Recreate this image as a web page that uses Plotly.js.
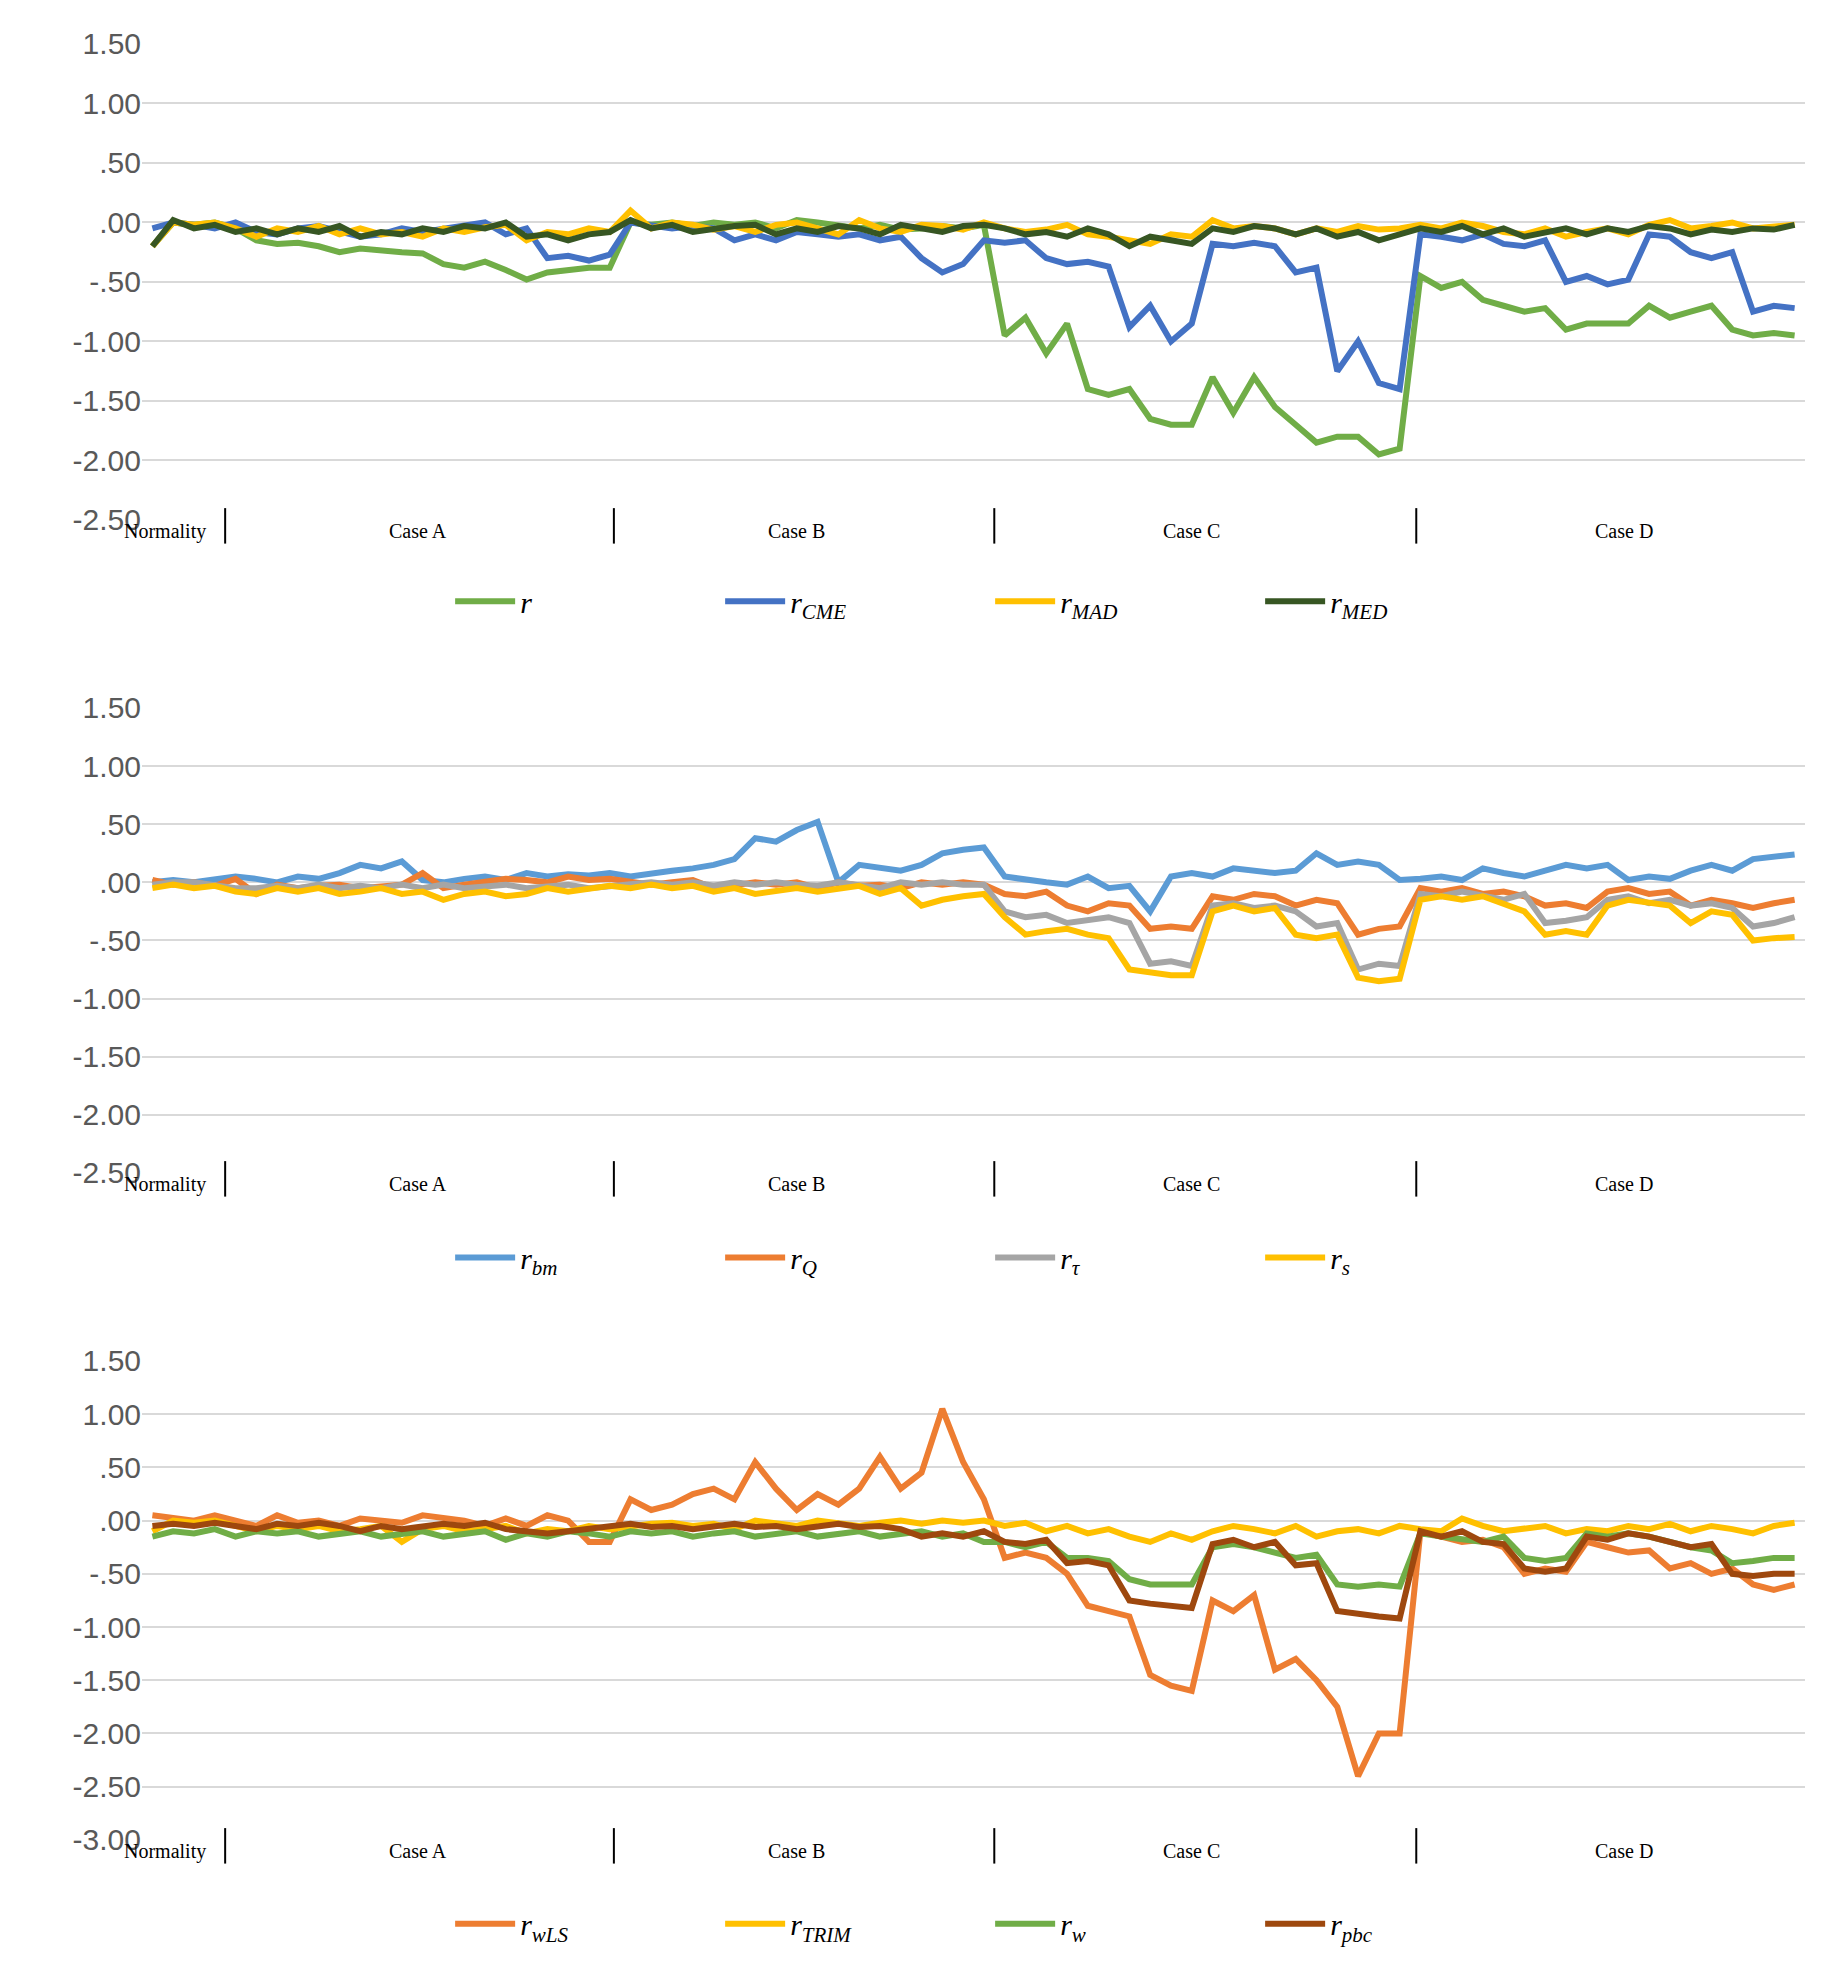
<!DOCTYPE html>
<html>
<head>
<meta charset="utf-8">
<script src="https://cdn.plot.ly/plotly-3.0.1.min.js"></script>
<style>body{margin:0;background:#fff}#chart{width:1847px;height:1971px}</style>
</head>
<body>
<div id="chart"></div>
<script>
// ---- data (one value per observation, 80 observations) ----
var r = [-0.2,0,-0.02,0,-0.05,-0.15,-0.18,-0.17,-0.2,-0.25,
  -0.22,-0.24,-0.25,-0.26,-0.35,-0.38,-0.33,-0.4,-0.48,-0.42,
  -0.4,-0.38,-0.38,0,-0.02,0,-0.03,0,-0.02,0,
  -0.05,0.02,0,-0.03,-0.05,-0.02,-0.06,-0.05,-0.03,-0.05,
  -0.02,-0.95,-0.8,-1.1,-0.85,-1.4,-1.45,-1.4,-1.65,-1.7,
  -1.7,-1.3,-1.6,-1.3,-1.55,-1.7,-1.85,-1.8,-1.8,-1.95,
  -1.9,-0.45,-0.55,-0.5,-0.65,-0.7,-0.75,-0.72,-0.9,-0.85,
  -0.85,-0.85,-0.7,-0.8,-0.75,-0.7,-0.9,-0.95,-0.93,-0.95];
var rCME = [-0.05,0,-0.02,-0.05,0,-0.08,-0.1,-0.05,-0.03,-0.08,
  -0.12,-0.1,-0.05,-0.08,-0.05,-0.02,0,-0.1,-0.05,-0.3,
  -0.28,-0.32,-0.27,0,-0.02,-0.05,-0.03,-0.05,-0.15,-0.1,
  -0.15,-0.08,-0.1,-0.12,-0.1,-0.15,-0.12,-0.3,-0.42,-0.35,
  -0.15,-0.17,-0.15,-0.3,-0.35,-0.33,-0.37,-0.88,-0.7,-1.0,
  -0.85,-0.18,-0.2,-0.17,-0.2,-0.42,-0.38,-1.25,-1.0,-1.35,
  -1.4,-0.1,-0.12,-0.15,-0.1,-0.18,-0.2,-0.15,-0.5,-0.45,
  -0.52,-0.48,-0.1,-0.12,-0.25,-0.3,-0.25,-0.75,-0.7,-0.72];
var rMAD = [-0.2,0,-0.02,0,-0.05,-0.12,-0.05,-0.08,-0.03,-0.1,
  -0.05,-0.1,-0.08,-0.12,-0.05,-0.08,-0.04,-0.02,-0.15,-0.08,
  -0.1,-0.05,-0.08,0.1,-0.05,0,-0.02,-0.06,-0.03,-0.08,
  -0.02,0,-0.05,-0.1,0.02,-0.05,-0.08,-0.02,-0.03,-0.06,
  0,-0.05,-0.08,-0.06,-0.02,-0.1,-0.12,-0.15,-0.18,-0.1,
  -0.12,0.02,-0.05,-0.03,-0.05,-0.1,-0.05,-0.08,-0.03,-0.06,
  -0.05,-0.02,-0.05,0,-0.03,-0.08,-0.1,-0.05,-0.12,-0.08,
  -0.05,-0.1,-0.02,0.02,-0.05,-0.03,0,-0.05,-0.03,-0.02];
var rMED = [-0.2,0.02,-0.05,-0.02,-0.08,-0.05,-0.1,-0.05,-0.08,-0.03,
  -0.12,-0.08,-0.1,-0.05,-0.08,-0.03,-0.05,0,-0.12,-0.1,
  -0.15,-0.1,-0.08,0.02,-0.05,-0.02,-0.08,-0.05,-0.03,-0.02,
  -0.1,-0.05,-0.08,-0.03,-0.05,-0.1,-0.02,-0.05,-0.08,-0.03,
  -0.02,-0.05,-0.1,-0.08,-0.12,-0.05,-0.1,-0.2,-0.12,-0.15,
  -0.18,-0.05,-0.08,-0.03,-0.05,-0.1,-0.05,-0.12,-0.08,-0.15,
  -0.1,-0.05,-0.08,-0.03,-0.1,-0.05,-0.12,-0.08,-0.05,-0.1,
  -0.05,-0.08,-0.03,-0.05,-0.1,-0.06,-0.08,-0.05,-0.06,-0.02];

var rBM = [0,0.02,0,0.03,0.05,0.03,0,0.05,0.03,0.08,
  0.15,0.12,0.18,0.02,0,0.03,0.05,0.02,0.08,0.05,
  0.07,0.06,0.08,0.05,0.08,0.1,0.12,0.15,0.2,0.38,
  0.35,0.45,0.52,0,0.15,0.12,0.1,0.15,0.25,0.28,
  0.3,0.05,0.02,0,-0.02,0.05,-0.05,-0.03,-0.25,0.05,
  0.08,0.05,0.12,0.1,0.08,0.1,0.25,0.15,0.18,0.15,
  0.02,0.03,0.05,0.02,0.12,0.08,0.05,0.1,0.15,0.12,
  0.15,0.02,0.05,0.03,0.1,0.15,0.1,0.2,0.22,0.24];
var rQ = [0.02,-0.02,0,-0.03,0.03,-0.1,-0.02,-0.05,-0.03,-0.02,
  -0.05,-0.03,-0.02,0.08,-0.05,-0.02,0,0.03,0.02,0,
  0.05,0.02,0.03,0,-0.02,0,0.02,-0.05,-0.03,0,
  -0.02,0,-0.05,0,-0.03,-0.02,-0.05,0,-0.02,0,
  -0.02,-0.1,-0.12,-0.08,-0.2,-0.25,-0.18,-0.2,-0.4,-0.38,
  -0.4,-0.12,-0.15,-0.1,-0.12,-0.2,-0.15,-0.18,-0.45,-0.4,
  -0.38,-0.05,-0.08,-0.05,-0.1,-0.08,-0.12,-0.2,-0.18,-0.22,
  -0.08,-0.05,-0.1,-0.08,-0.2,-0.15,-0.18,-0.22,-0.18,-0.15];
var rTau = [-0.02,0,0,-0.02,-0.05,-0.05,-0.03,-0.05,-0.02,-0.05,
  -0.03,-0.05,-0.02,-0.05,-0.02,-0.05,-0.03,-0.02,-0.05,-0.03,
  -0.02,-0.05,-0.03,-0.02,0,-0.02,0,-0.03,0,-0.02,
  0,-0.02,-0.03,0,-0.02,-0.05,0,-0.02,0,-0.02,
  -0.02,-0.25,-0.3,-0.28,-0.35,-0.32,-0.3,-0.35,-0.7,-0.68,
  -0.72,-0.2,-0.18,-0.22,-0.2,-0.25,-0.38,-0.35,-0.75,-0.7,
  -0.72,-0.1,-0.12,-0.08,-0.12,-0.15,-0.1,-0.35,-0.33,-0.3,
  -0.15,-0.12,-0.18,-0.15,-0.2,-0.18,-0.22,-0.38,-0.35,-0.3];
var rS = [-0.05,-0.02,-0.05,-0.03,-0.08,-0.1,-0.05,-0.08,-0.05,-0.1,
  -0.08,-0.05,-0.1,-0.08,-0.15,-0.1,-0.08,-0.12,-0.1,-0.05,
  -0.08,-0.05,-0.03,-0.05,-0.02,-0.05,-0.03,-0.08,-0.05,-0.1,
  -0.08,-0.05,-0.08,-0.05,-0.03,-0.1,-0.05,-0.2,-0.15,-0.12,
  -0.1,-0.3,-0.45,-0.42,-0.4,-0.45,-0.48,-0.75,-0.78,-0.8,
  -0.8,-0.25,-0.2,-0.25,-0.22,-0.45,-0.48,-0.45,-0.82,-0.85,
  -0.83,-0.15,-0.12,-0.15,-0.12,-0.18,-0.25,-0.45,-0.42,-0.45,
  -0.2,-0.15,-0.18,-0.2,-0.35,-0.25,-0.28,-0.5,-0.48,-0.47];

var rWLS = [0.05,0.03,0,0.05,0,-0.05,0.05,-0.02,0,-0.05,
  0.02,0,-0.02,0.05,0.03,0,-0.05,0.02,-0.05,0.05,
  0,-0.2,-0.2,0.2,0.1,0.15,0.25,0.3,0.2,0.55,
  0.3,0.1,0.25,0.15,0.3,0.6,0.3,0.45,1.05,0.55,
  0.2,-0.35,-0.3,-0.35,-0.5,-0.8,-0.85,-0.9,-1.45,-1.55,
  -1.6,-0.75,-0.85,-0.7,-1.4,-1.3,-1.5,-1.75,-2.4,-2.0,
  -2.0,-0.1,-0.15,-0.2,-0.18,-0.25,-0.5,-0.45,-0.48,-0.2,
  -0.25,-0.3,-0.28,-0.45,-0.4,-0.5,-0.45,-0.6,-0.65,-0.6];
var rTRIM = [-0.1,0,-0.02,0,-0.05,-0.1,-0.05,-0.08,-0.05,-0.1,
  -0.08,-0.05,-0.2,-0.08,-0.05,-0.1,-0.08,-0.05,-0.12,-0.08,
  -0.1,-0.05,-0.08,-0.05,-0.03,-0.02,-0.05,-0.03,-0.08,0,
  -0.02,-0.05,0,-0.03,-0.05,-0.02,0,-0.03,0,-0.02,
  0,-0.05,-0.02,-0.1,-0.05,-0.12,-0.08,-0.15,-0.2,-0.12,
  -0.18,-0.1,-0.05,-0.08,-0.12,-0.05,-0.15,-0.1,-0.08,-0.12,
  -0.05,-0.08,-0.1,0.02,-0.05,-0.1,-0.08,-0.05,-0.12,-0.08,
  -0.1,-0.05,-0.08,-0.03,-0.1,-0.05,-0.08,-0.12,-0.05,-0.02];
var rW = [-0.15,-0.1,-0.12,-0.08,-0.15,-0.1,-0.12,-0.1,-0.15,-0.12,
  -0.1,-0.15,-0.12,-0.1,-0.15,-0.12,-0.1,-0.18,-0.12,-0.15,
  -0.1,-0.12,-0.15,-0.1,-0.12,-0.1,-0.15,-0.12,-0.1,-0.15,
  -0.12,-0.1,-0.15,-0.12,-0.1,-0.15,-0.12,-0.1,-0.15,-0.12,
  -0.2,-0.2,-0.25,-0.2,-0.35,-0.35,-0.38,-0.55,-0.6,-0.6,
  -0.6,-0.25,-0.22,-0.25,-0.3,-0.35,-0.32,-0.6,-0.62,-0.6,
  -0.62,-0.12,-0.15,-0.18,-0.2,-0.15,-0.35,-0.38,-0.35,-0.12,
  -0.15,-0.12,-0.15,-0.2,-0.25,-0.28,-0.4,-0.38,-0.35,-0.35];
var rPBC = [-0.05,-0.03,-0.05,-0.02,-0.05,-0.08,-0.03,-0.05,-0.02,-0.05,
  -0.1,-0.05,-0.08,-0.05,-0.03,-0.05,-0.02,-0.08,-0.1,-0.12,
  -0.1,-0.08,-0.05,-0.03,-0.06,-0.05,-0.08,-0.05,-0.03,-0.06,
  -0.05,-0.08,-0.05,-0.03,-0.06,-0.05,-0.08,-0.15,-0.12,-0.15,
  -0.1,-0.2,-0.22,-0.18,-0.4,-0.38,-0.42,-0.75,-0.78,-0.8,
  -0.82,-0.22,-0.18,-0.25,-0.2,-0.42,-0.4,-0.85,-0.88,-0.9,
  -0.92,-0.1,-0.15,-0.1,-0.2,-0.22,-0.45,-0.48,-0.45,-0.15,
  -0.18,-0.12,-0.15,-0.2,-0.25,-0.22,-0.5,-0.52,-0.5,-0.5];

var caseLabels = ['Normality','Case A','Case B','Case C','Case D'];
var caseCenters = [0.6, 12.8, 31.0, 50.0, 70.8];
var caseBounds = [3.5, 22.2, 40.5, 60.8];

var tickVals12 = [1.5,1,0.5,0,-0.5,-1,-1.5,-2,-2.5];
var tickText12 = ['1.50','1.00','.50','.00','-.50','-1.00','-1.50','-2.00','-2.50'];
var tickVals3 = [1.5,1,0.5,0,-0.5,-1,-1.5,-2,-2.5,-3];
var tickText3 = ['1.50','1.00','.50','.00','-.50','-1.00','-1.50','-2.00','-2.50','-3.00'];

// ---- build ----
function idx(a){ return a.map(function(_, i){ return i; }); }
function tr(y, name, color, ax, leg){
  return {x: idx(y), y: y, name: name, type: 'scatter', mode: 'lines',
    line: {color: color, width: 6}, xaxis: 'x' + ax, yaxis: 'y' + ax, legend: leg};
}
var data = [
  tr(r, '<i>r</i>', '#70ad47', '', 'legend'),
  tr(rCME, '<i>r</i><sub><i>CME</i></sub>', '#4472c4', '', 'legend'),
  tr(rMAD, '<i>r</i><sub><i>MAD</i></sub>', '#ffc000', '', 'legend'),
  tr(rMED, '<i>r</i><sub><i>MED</i></sub>', '#375623', '', 'legend'),
  tr(rBM, '<i>r</i><sub><i>bm</i></sub>', '#5b9bd5', '2', 'legend2'),
  tr(rQ, '<i>r</i><sub><i>Q</i></sub>', '#ed7d31', '2', 'legend2'),
  tr(rTau, '<i>r</i><sub><i>τ</i></sub>', '#a5a5a5', '2', 'legend2'),
  tr(rS, '<i>r</i><sub><i>s</i></sub>', '#ffc000', '2', 'legend2'),
  tr(rWLS, '<i>r</i><sub><i>wLS</i></sub>', '#ed7d31', '3', 'legend3'),
  tr(rTRIM, '<i>r</i><sub><i>TRIM</i></sub>', '#ffc000', '3', 'legend3'),
  tr(rW, '<i>r</i><sub><i>w</i></sub>', '#70ad47', '3', 'legend3'),
  tr(rPBC, '<i>r</i><sub><i>pbc</i></sub>', '#9e480e', '3', 'legend3')
];

var domains = [[0.7362, 0.9777], [0.4049, 0.6408], [0.0665, 0.3095]];
var legY = [0.695, 0.362, 0.024];
var font = {family: 'Liberation Serif', size: 20, color: '#000'};
function yax(d, vals, txt, rng){
  return {domain: d, range: rng, tickvals: vals, ticktext: txt, showgrid: true,
    gridcolor: '#d9d9d9', gridwidth: 2, zeroline: false, showline: false,
    ticks: '', tickfont: {family: 'Liberation Sans', size: 30, color: '#595959'}};
}
function xax(anchor){
  return {anchor: anchor, range: [-0.5, 79.5], showticklabels: false, showgrid: false,
    zeroline: false, showline: false, ticks: ''};
}
var layout = {
  width: 1847, height: 1971, paper_bgcolor: '#fff', plot_bgcolor: '#fff',
  margin: {l: 142, r: 42, t: 0, b: 0},
  xaxis: xax('y'), xaxis2: xax('y2'), xaxis3: xax('y3'),
  yaxis: yax(domains[0], tickVals12, tickText12, [-2.5, 1.5]),
  yaxis2: yax(domains[1], tickVals12, tickText12, [-2.5, 1.5]),
  yaxis3: yax(domains[2], tickVals3, tickText3, [-3, 1.5]),
  annotations: [], shapes: []
};
['legend', 'legend2', 'legend3'].forEach(function(k, i){
  layout[k] = {orientation: 'h', x: 0.51, xanchor: 'center', y: legY[i], yanchor: 'middle',
    font: {family: 'Liberation Serif', size: 30, color: '#000'}, itemwidth: 60,
    entrywidth: 195, bgcolor: 'rgba(0,0,0,0)'};
});
domains.forEach(function(d, p){
  caseLabels.forEach(function(lbl, j){
    layout.annotations.push({xref: 'x' + (p ? p + 1 : ''), yref: 'paper', x: caseCenters[j],
      y: d[0] + 0.001, yanchor: 'top', text: lbl, showarrow: false, font: font});
  });
  caseBounds.forEach(function(b){
    layout.shapes.push({type: 'line', xref: 'x' + (p ? p + 1 : ''), yref: 'paper',
      x0: b, x1: b, y0: d[0] + 0.006, y1: d[0] - 0.012, line: {color: '#000', width: 2}});
  });
});

Plotly.newPlot('chart', data, layout, {displayModeBar: false, staticPlot: true});
</script>
</body>
</html>
